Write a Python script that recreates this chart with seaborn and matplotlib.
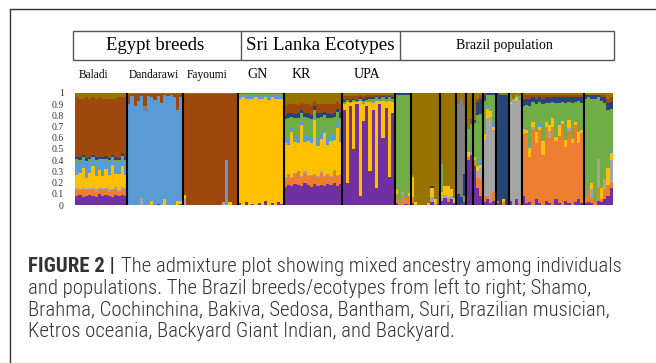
import numpy as np
import pandas as pd
import seaborn as sns
import matplotlib.pyplot as plt
from matplotlib import font_manager as fm
from matplotlib.patches import Rectangle
from matplotlib.lines import Line2D

# Ancestry clusters, listed from the bottom of each bar to the top
clusters = ["purple", "orange", "light_gray", "gold", "light_blue",
            "green", "navy", "dark_gray", "brown", "olive"]
cluster_colors = ["#7030A0", "#ED7D31", "#A5A5A5", "#FFC000", "#5B9BD5",
                  "#70AD47", "#264478", "#7F7F7F", "#9E480E", "#997300"]

# Ancestry proportions (percent) per individual, columns follow `clusters`
baladi = [
    [8, 5, 2, 12, 12, 2, 2, 0, 53, 4], [9, 4, 1, 15, 10, 1, 3, 0, 52, 5],
    [7, 6, 2, 18, 8, 2, 2, 0, 50, 5], [8, 5, 1, 10, 14, 1, 3, 0, 54, 4],
    [9, 4, 2, 14, 10, 2, 2, 0, 52, 5], [8, 6, 1, 20, 7, 1, 2, 0, 51, 4],
    [7, 5, 2, 12, 12, 2, 3, 0, 52, 5], [10, 4, 1, 16, 9, 1, 2, 0, 53, 4],
    [8, 5, 2, 11, 13, 2, 2, 0, 52, 5], [9, 5, 1, 17, 8, 1, 3, 0, 51, 5],
    [8, 4, 2, 13, 11, 2, 2, 0, 53, 5], [7, 6, 1, 22, 6, 1, 2, 0, 50, 5],
    [9, 5, 2, 12, 10, 2, 3, 0, 52, 5], [8, 4, 1, 15, 11, 1, 2, 0, 54, 4],
    [9, 5, 2, 19, 7, 2, 2, 0, 50, 4], [8, 6, 1, 12, 12, 1, 3, 0, 53, 4],
]
dandarawi = [
    [0, 0, 0, 0, 90, 0, 0, 0, 8, 2], [0, 0, 0, 0, 97, 0, 0, 0, 2, 1],
    [0, 0, 0, 0, 88, 0, 0, 0, 11, 1], [0, 0, 0, 0, 93, 0, 0, 0, 6, 1],
    [0, 0, 6, 0, 91, 0, 0, 0, 2, 1], [0, 0, 0, 0, 84, 0, 0, 4, 11, 1],
    [0, 0, 0, 0, 97, 0, 0, 0, 2, 1], [0, 0, 0, 4, 92, 0, 0, 0, 3, 1],
    [0, 0, 0, 0, 94, 0, 0, 0, 5, 1], [1, 0, 0, 0, 96, 0, 0, 0, 2, 1],
    [0, 0, 0, 0, 91, 0, 0, 0, 8, 1], [0, 0, 0, 5, 93, 0, 0, 0, 1, 1],
    [0, 0, 0, 0, 97, 0, 0, 0, 2, 1], [0, 0, 0, 0, 98, 0, 0, 0, 1, 1],
    [0, 0, 0, 0, 96, 0, 0, 0, 3, 1], [0, 0, 0, 4, 81, 0, 0, 0, 14, 1],
    [1, 0, 0, 3, 92, 0, 0, 0, 3, 1],
]
fayoumi = [
    [0, 0, 5, 4, 0, 0, 0, 0, 90, 1], [0, 0, 0, 0, 0, 0, 0, 0, 99, 1],
    [0, 0, 0, 0, 0, 0, 0, 0, 99, 1], [0, 0, 0, 0, 0, 0, 0, 0, 99, 1],
    [0, 0, 0, 0, 0, 0, 0, 0, 99, 1], [0, 0, 0, 0, 0, 0, 0, 0, 99, 1],
    [0, 0, 0, 0, 0, 0, 0, 0, 99, 1], [0, 0, 0, 0, 0, 0, 0, 0, 99, 1],
    [0, 0, 0, 0, 0, 0, 0, 0, 99, 1], [0, 0, 0, 0, 0, 0, 0, 0, 99, 1],
    [0, 0, 0, 0, 0, 0, 0, 0, 99, 1], [0, 0, 0, 0, 0, 0, 0, 0, 99, 1],
    [0, 0, 3, 0, 0, 0, 0, 0, 96, 1], [0, 0, 0, 0, 40, 0, 0, 0, 59, 1],
    [0, 0, 0, 3, 0, 0, 0, 0, 96, 1], [0, 0, 0, 0, 0, 0, 0, 0, 99, 1],
    [0, 0, 0, 0, 0, 0, 0, 0, 99, 1],
]
gn = [
    [2, 0, 0, 93, 2, 2, 0, 0, 0, 1], [0, 0, 0, 96, 1, 2, 0, 0, 0, 1],
    [3, 0, 0, 92, 3, 1, 0, 0, 0, 1], [0, 0, 0, 95, 2, 2, 0, 0, 0, 1],
    [1, 0, 0, 94, 1, 3, 0, 0, 0, 1], [0, 0, 0, 96, 2, 1, 0, 0, 0, 1],
    [2, 0, 0, 93, 3, 1, 0, 0, 0, 1], [0, 0, 0, 95, 1, 3, 0, 0, 0, 1],
    [4, 0, 0, 92, 2, 1, 0, 0, 0, 1], [0, 0, 0, 94, 3, 2, 0, 0, 0, 1],
    [2, 0, 0, 94, 1, 2, 0, 0, 0, 1], [0, 0, 0, 95, 2, 2, 0, 0, 0, 1],
    [3, 0, 0, 92, 2, 2, 0, 0, 0, 1], [1, 0, 0, 94, 2, 2, 0, 0, 0, 1],
]
kr = [
    [16, 8, 1, 30, 5, 17, 3, 0, 9, 11], [18, 10, 0, 26, 6, 18, 4, 0, 8, 10],
    [17, 7, 1, 40, 4, 10, 3, 0, 8, 10], [19, 9, 1, 27, 6, 16, 3, 0, 9, 10],
    [18, 12, 0, 25, 5, 18, 4, 0, 7, 11], [17, 8, 1, 45, 3, 8, 3, 0, 6, 9],
    [20, 9, 1, 26, 6, 17, 3, 0, 8, 10], [18, 8, 1, 30, 5, 16, 4, 0, 8, 10],
    [16, 10, 1, 28, 6, 16, 3, 0, 9, 11], [19, 9, 0, 48, 3, 6, 3, 0, 5, 7],
    [17, 8, 1, 27, 7, 18, 4, 0, 8, 10], [18, 11, 1, 29, 5, 15, 3, 0, 8, 10],
    [17, 8, 1, 38, 4, 12, 3, 0, 7, 10], [19, 9, 0, 26, 6, 18, 4, 0, 8, 10],
    [18, 7, 1, 31, 5, 16, 3, 0, 9, 10], [20, 10, 1, 27, 6, 15, 3, 0, 8, 10],
    [17, 9, 1, 42, 4, 10, 3, 0, 6, 8], [19, 8, 1, 28, 6, 16, 4, 0, 8, 10],
]
upa = [
    [85, 0, 0, 5, 0, 2, 2, 0, 3, 3], [20, 0, 0, 72, 0, 2, 1, 0, 2, 3],
    [88, 0, 0, 3, 0, 1, 2, 0, 3, 3], [50, 0, 0, 42, 0, 2, 1, 0, 2, 3],
    [90, 0, 0, 2, 0, 1, 1, 0, 3, 3], [8, 0, 0, 85, 0, 2, 1, 0, 2, 2],
    [75, 0, 0, 15, 1, 2, 2, 0, 2, 3], [88, 0, 0, 4, 0, 2, 2, 0, 2, 2],
    [30, 0, 0, 62, 0, 3, 1, 0, 2, 2], [85, 0, 0, 6, 1, 3, 1, 0, 2, 2],
    [15, 0, 0, 78, 1, 2, 1, 0, 1, 2], [90, 0, 0, 3, 0, 2, 1, 0, 2, 2],
    [60, 0, 0, 33, 0, 3, 1, 0, 1, 2], [87, 0, 0, 5, 0, 3, 1, 0, 2, 2],
    [25, 0, 0, 68, 0, 3, 1, 0, 1, 2], [82, 0, 0, 10, 0, 3, 1, 0, 2, 2],
]
shamo = [
    [2, 8, 0, 4, 0, 84, 2, 0, 0, 0], [0, 3, 0, 0, 0, 95, 2, 0, 0, 0],
    [0, 10, 2, 0, 0, 86, 2, 0, 0, 0], [1, 5, 0, 0, 2, 90, 2, 0, 0, 0],
    [0, 8, 0, 3, 0, 87, 2, 0, 0, 0],
]
brahma = [
    [2, 5, 0, 18, 0, 2, 0, 0, 0, 73], [0, 0, 0, 3, 0, 0, 0, 0, 0, 97],
    [0, 0, 0, 0, 0, 0, 0, 0, 0, 100], [0, 0, 0, 0, 0, 0, 0, 0, 0, 100],
    [0, 0, 0, 0, 0, 0, 0, 0, 0, 100], [0, 0, 0, 2, 0, 0, 0, 0, 0, 98],
    [3, 0, 4, 8, 0, 0, 2, 0, 0, 83], [0, 0, 2, 3, 0, 0, 0, 0, 0, 95],
    [0, 0, 0, 0, 0, 0, 0, 0, 0, 100],
]
cochinchina = [
    [4, 0, 2, 6, 0, 25, 0, 0, 0, 63], [6, 0, 3, 8, 0, 0, 0, 0, 0, 83],
    [3, 2, 2, 10, 0, 0, 0, 0, 0, 83], [5, 0, 3, 6, 0, 0, 0, 0, 0, 86],
    [2, 0, 0, 4, 0, 0, 0, 0, 0, 94],
]
bakiva = [
    [0, 0, 0, 0, 0, 0, 10, 80, 0, 10], [2, 0, 0, 0, 0, 0, 5, 88, 0, 5],
    [3, 0, 0, 0, 0, 5, 20, 60, 0, 12],
]
sedosa = [
    [40, 3, 0, 4, 3, 18, 0, 0, 0, 32], [45, 0, 2, 0, 0, 25, 0, 0, 5, 23],
]
bantham = [
    [35, 5, 0, 3, 0, 30, 3, 0, 0, 24], [15, 10, 5, 5, 0, 45, 12, 0, 3, 5],
    [8, 15, 10, 3, 5, 40, 14, 0, 3, 2],
]
suri = [
    [3, 5, 50, 5, 0, 30, 5, 0, 2, 0], [5, 3, 70, 8, 2, 10, 2, 0, 0, 0],
    [2, 2, 75, 5, 0, 14, 2, 0, 0, 0], [4, 8, 55, 3, 3, 25, 2, 0, 0, 0],
]
brazilian_musician = [
    [2, 2, 0, 0, 0, 0, 96, 0, 0, 0], [0, 0, 0, 0, 0, 0, 98, 0, 0, 2],
    [0, 3, 0, 2, 0, 0, 93, 0, 0, 2], [0, 0, 0, 0, 0, 0, 98, 0, 0, 2],
]
ketros_oceania = [
    [4, 0, 86, 2, 0, 6, 0, 0, 0, 2], [0, 0, 95, 0, 0, 0, 0, 0, 0, 5],
    [5, 0, 88, 3, 0, 2, 0, 0, 0, 2], [0, 2, 92, 0, 0, 3, 0, 0, 0, 3],
]
backyard_giant_indian = [
    [8, 55, 0, 5, 2, 18, 6, 0, 4, 2], [2, 62, 0, 3, 0, 22, 6, 0, 3, 2],
    [3, 40, 0, 8, 2, 35, 7, 0, 3, 2], [0, 68, 2, 4, 0, 18, 4, 0, 2, 2],
    [5, 50, 0, 10, 0, 25, 5, 0, 3, 2], [2, 65, 0, 3, 2, 20, 4, 0, 2, 2],
    [0, 45, 0, 12, 0, 33, 5, 0, 3, 2], [4, 66, 0, 4, 0, 17, 5, 0, 2, 2],
    [2, 58, 6, 5, 0, 20, 5, 0, 2, 2], [0, 70, 0, 8, 0, 14, 4, 0, 2, 2],
    [5, 52, 0, 4, 0, 30, 5, 0, 2, 2], [2, 60, 0, 9, 2, 18, 5, 0, 2, 2],
    [0, 72, 0, 3, 0, 17, 4, 0, 2, 2], [4, 48, 0, 6, 0, 33, 5, 0, 2, 2],
    [2, 64, 3, 7, 0, 16, 4, 0, 2, 2], [0, 55, 0, 4, 0, 32, 5, 0, 2, 2],
    [3, 68, 0, 3, 0, 18, 4, 0, 2, 2], [5, 50, 0, 10, 0, 28, 3, 0, 2, 2],
    [2, 62, 0, 3, 0, 24, 5, 0, 2, 2],
]
backyard = [
    [2, 5, 0, 0, 0, 88, 3, 0, 0, 2], [3, 10, 0, 0, 0, 83, 2, 0, 0, 2],
    [2, 4, 8, 6, 0, 75, 3, 0, 0, 2], [0, 3, 0, 0, 0, 92, 3, 0, 0, 2],
    [4, 12, 25, 0, 0, 55, 2, 0, 0, 2], [3, 2, 0, 10, 0, 78, 3, 0, 2, 2],
    [5, 8, 10, 0, 0, 68, 5, 0, 2, 2], [8, 10, 0, 15, 0, 52, 6, 0, 4, 5],
    [15, 5, 20, 6, 2, 38, 6, 0, 4, 4],
]

populations = [
    ("Baladi", baladi), ("Dandarawi", dandarawi), ("Fayoumi", fayoumi),
    ("GN", gn), ("KR", kr), ("UPA", upa),
    ("Shamo", shamo), ("Brahma", brahma), ("Cochinchina", cochinchina),
    ("Bakiva", bakiva), ("Sedosa", sedosa), ("Bantham", bantham),
    ("Suri", suri), ("Brazilian musician", brazilian_musician),
    ("Ketros oceania", ketros_oceania),
    ("Backyard Giant Indian", backyard_giant_indian), ("Backyard", backyard),
]

group_titles = ["Egypt breeds", "Sri Lanka Ecotypes", "Brazil population"]
caption_head = "FIGURE 2 |"
caption_lines = [
    "The admixture plot showing mixed ancestry among individuals",
    "and populations. The Brazil breeds/ecotypes from left to right; Shamo,",
    "Brahma, Cochinchina, Bakiva, Sedosa, Bantham, Suri, Brazilian musician,",
    "Ketros oceania, Backyard Giant Indian, and Backyard.",
]

# Long table: one row per individual and cluster
records = []
sizes = []
idx = 0
for pop_name, rows in populations:
    sizes.append(len(rows))
    for row in rows:
        q = np.asarray(row, dtype=float)
        q = q / q.sum()
        for k, name in enumerate(clusters):
            records.append((idx, pop_name, name, q[k]))
        idx += 1
df = pd.DataFrame(records, columns=["individual", "population", "cluster", "q"])
n_ind = idx
bounds = np.cumsum(sizes)[:-1] - 0.5

sns.set_theme(style="white")
serif = ["Liberation Serif", "DejaVu Serif"]
installed = {f.name for f in fm.fontManager.ttflist}
cap_family = next(f for f in ["Roboto Condensed", "Liberation Sans Narrow", "Archivo Narrow",
                              "PT Sans Narrow", "Fira Sans Condensed", "Asap Condensed",
                              "Roboto", "DejaVu Sans"]
                  if f in installed)
plt.rcParams["font.family"] = serif

W, H = 656, 363
fig = plt.figure(figsize=(W / 100, H / 100), dpi=100)
fig.patch.set_facecolor("white")


def fx(x):
    return x / W


def fy(y):
    return 1 - y / H


ax = fig.add_axes([fx(75), fy(205), fx(613) - fx(75), fy(93) - fy(205)])
sns.histplot(
    data=df, x="individual", weights="q", hue="cluster",
    hue_order=clusters[::-1], palette=dict(zip(clusters, cluster_colors)),
    multiple="stack", discrete=True, shrink=1, linewidth=0, alpha=1,
    legend=False, ax=ax,
)
ax.vlines(bounds, 0, 1, color="black", lw=1.5, zorder=5)
ax.set_xlim(-0.5, n_ind - 0.5)
ax.set_ylim(0, 1)
ax.set_xticks([])
ax.set_xlabel("")
ax.set_ylabel("")
yt = np.round(np.arange(0, 1.01, 0.1), 1)
ax.set_yticks(yt)
ax.set_yticklabels(["0" if v == 0 else ("1" if v == 1 else f"{v:g}") for v in yt],
                   fontsize=7, family=serif, color="#333333")
ax.tick_params(axis="y", length=0, pad=8)
for s in ax.spines.values():
    s.set_visible(False)
ax.set_facecolor("white")

# Outer frame (left and top rules)
fig.add_artist(Line2D([fx(10), fx(10)], [fy(9), 0], color="#333333", lw=1.0))
fig.add_artist(Line2D([fx(10), 1], [fy(9), fy(9)], color="#333333", lw=1.0))

# Header box with the three population groups
fig.add_artist(Rectangle((fx(73), fy(60)), fx(614) - fx(73), fy(31) - fy(60),
                         fill=False, edgecolor="#555555", lw=1.0))
for xd in (241, 400):
    fig.add_artist(Line2D([fx(xd), fx(xd)], [fy(60), fy(31)], color="#555555", lw=1.0))
fig.text(fx(155), fy(46), group_titles[0], ha="center", va="center", fontsize=13.5, color="black")
fig.text(fx(320), fy(46), group_titles[1], ha="center", va="center", fontsize=13.7, color="black")
fig.text(fx(504), fy(46), group_titles[2], ha="center", va="center", fontsize=10.0, color="black")

# Population labels above the bars
small_labels = [("Baladi", 79, 8.3), ("Dandarawi", 129, 8.3), ("Fayoumi", 187, 8.3),
                ("GN", 247, 10.0), ("KR", 292, 10.0), ("UPA", 354, 10.0)]
for name, x, fs in small_labels:
    fig.text(fx(x), fy(75), name, ha="left", va="center", fontsize=fs, color="black")

# Caption: first line fitted to the text column width
cap_color = "#333333"
fs0 = 12.0
x_left, x_right = 28, 620
t_bold = fig.text(fx(x_left), fy(267), caption_head, fontsize=fs0, fontweight="bold",
                  family=cap_family, color=cap_color, va="center", ha="left")
t_rest = fig.text(0, fy(267), caption_lines[0], fontsize=fs0, fontweight="light",
                  family=cap_family, color=cap_color, va="center", ha="left")
fig.canvas.draw()
r = fig.canvas.get_renderer()
w_total = t_bold.get_window_extent(r).width + 5 + t_rest.get_window_extent(r).width
cap_fs = fs0 * (x_right - x_left) / w_total
t_bold.set_fontsize(cap_fs)
t_rest.set_fontsize(cap_fs)
fig.canvas.draw()
bb = t_bold.get_window_extent(r)
t_rest.set_x((bb.x1 + 5 * cap_fs / fs0) / W)
for i, line in enumerate(caption_lines[1:]):
    fig.text(fx(x_left), fy(288.5 + 21.7 * i), line, fontsize=cap_fs, fontweight="light",
             family=cap_family, color=cap_color, va="center", ha="left")

fig.savefig("out.png", dpi=100, facecolor="white")
